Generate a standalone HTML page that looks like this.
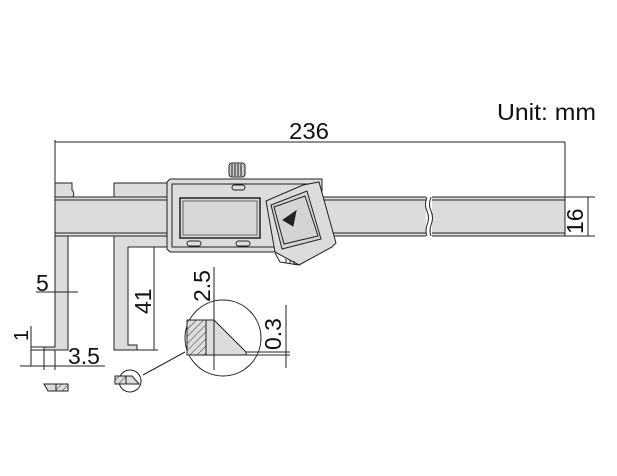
<!DOCTYPE html>
<html><head><meta charset="utf-8"><style>
html,body{margin:0;padding:0;background:#fff}
svg{display:block}
text{font-family:"Liberation Sans",Arial,sans-serif;fill:#111}
</style></head><body>
<svg width="617" height="476" viewBox="0 0 617 476" xmlns="http://www.w3.org/2000/svg">
<defs>
<pattern id="h" width="5" height="5" patternUnits="userSpaceOnUse" patternTransform="rotate(45)">
<rect width="5" height="5" fill="#ddd"/><line x1="0" y1="0" x2="0" y2="5" stroke="#333" stroke-width="1"/>
</pattern>
</defs>
<g stroke="#222" stroke-width="1" fill="#dcdcdc">
<line x1="55" y1="142" x2="565" y2="142" fill="none"/>
<line x1="55" y1="140" x2="55" y2="184" fill="none"/>
<line x1="565" y1="142" x2="565" y2="197" fill="none"/>
<path d="M55 183 H72 V190 Q75 193 73 197 H55 Z"/>
<rect x="55" y="197" width="372" height="39"/>
<rect x="431" y="197" width="134" height="39"/>
<line x1="55" y1="200" x2="427" y2="200"/><line x1="431" y1="200" x2="565" y2="200"/>
<line x1="55" y1="233" x2="427" y2="233"/><line x1="431" y1="233" x2="565" y2="233"/>
<rect x="426" y="196" width="6" height="41" fill="#fff" stroke="none"/>
<path d="M427 197 q-3 8 0 14 q3 7 0 14 q-2 6 0 11 M431 197 q-3 8 0 14 q3 7 0 14 q-2 6 0 11" fill="none"/>
<path d="M55 236 H68 V350 H44 V347 H55 Z"/>
<path d="M114 183 H168 V197 H114 Z"/>
<path d="M114 236 H168 V247 H128 V345 H137 V350 H114 Z"/>
<path d="M167 182 L170 179 H322 V250 L319 252 H170 L167 249 Z"/>
<rect x="172" y="184" width="145" height="63" fill="none"/>
<rect x="180" y="198" width="80" height="40" fill="#d8d8d8" stroke-width="1.5"/>
<rect x="183" y="201" width="74" height="34" fill="none" stroke="#666"/>
<rect x="232" y="185" width="13" height="5" rx="2.5"/>
<rect x="187" y="241" width="14" height="5" rx="2.5"/>
<rect x="236" y="241" width="14" height="5" rx="2.5"/>
<rect x="229" y="163" width="16" height="14" rx="3" fill="#ccc"/>
<path d="M232 164V176M235 164V176M238 164V176M241 164V176" fill="none"/>
<path d="M266 201 L303 185 L319 182 L336 243 L332 247 L299 265 L275 252 Z"/>
<path d="M275 253 L280 262 L299 265 M286 259 l0 4 M290 260 l0 4 M294 261 l0 4" fill="none"/>
<path d="M271 205 L307 191 L321 239 L282 249 Z" fill="#d4d4d4"/>
<path d="M274 207 L305 196 L318 236 L284 244 Z" fill="none"/>
<path d="M283 220 L296 211 L293 226 Z" fill="#222"/>
<line x1="565" y1="197" x2="595" y2="197" fill="none"/>
<line x1="565" y1="236" x2="595" y2="236" fill="none"/>
<line x1="588" y1="197" x2="588" y2="236" fill="none"/>
<line x1="128" y1="247" x2="158" y2="247" fill="none"/>
<line x1="137" y1="350" x2="158" y2="350" fill="none"/>
<line x1="154" y1="247" x2="154" y2="350" fill="none"/>
<line x1="36" y1="292" x2="78" y2="292" fill="none"/>
<line x1="31" y1="347" x2="44" y2="347" fill="none"/>
<line x1="31" y1="350" x2="44" y2="350" fill="none"/>
<line x1="31" y1="326" x2="31" y2="366" fill="none"/>
<line x1="44" y1="350" x2="44" y2="370" fill="none"/>
<line x1="55" y1="350" x2="55" y2="370" fill="none"/>
<line x1="20" y1="366" x2="105" y2="366" fill="none"/>
<circle cx="223" cy="338" r="38" fill="#fff"/>
<rect x="187" y="320" width="19" height="35" fill="url(#h)"/>
<path d="M206 320 H214 L246 352 V355 H206 Z"/>
<line x1="214" y1="267" x2="214" y2="370" fill="none"/>
<line x1="246" y1="352" x2="290" y2="352" fill="none"/>
<line x1="246" y1="355" x2="290" y2="355" fill="none"/>
<line x1="286" y1="305" x2="286" y2="368" fill="none"/>
<line x1="185" y1="352" x2="143" y2="375" fill="none"/>
<circle cx="130" cy="381" r="11" fill="none"/>
<rect x="115" y="376" width="11" height="8" fill="url(#h)"/>
<path d="M126 376 H132 L139 384 H126 Z"/>
<path d="M44 384 H56 V391 H48 Z"/>
<rect x="56" y="384" width="12" height="7" fill="url(#h)"/>
</g>
<text x="497" y="120" font-size="23" textLength="99" lengthAdjust="spacingAndGlyphs">Unit: mm</text>
<text x="289" y="139" font-size="23" textLength="40" lengthAdjust="spacingAndGlyphs">236</text>
<text x="0" y="0" font-size="23" transform="translate(583,234) rotate(-90)">16</text>
<text x="0" y="0" font-size="23" transform="translate(151,314) rotate(-90)">41</text>
<text x="36" y="291" font-size="23">5</text>
<text x="0" y="0" font-size="20" transform="translate(28,341) rotate(-90)">1</text>
<text x="68" y="364" font-size="23">3.5</text>
<text x="0" y="0" font-size="23" transform="translate(210,302) rotate(-90)">2.5</text>
<text x="0" y="0" font-size="23" transform="translate(281,350) rotate(-90)">0.3</text>
</svg>
</body></html>
